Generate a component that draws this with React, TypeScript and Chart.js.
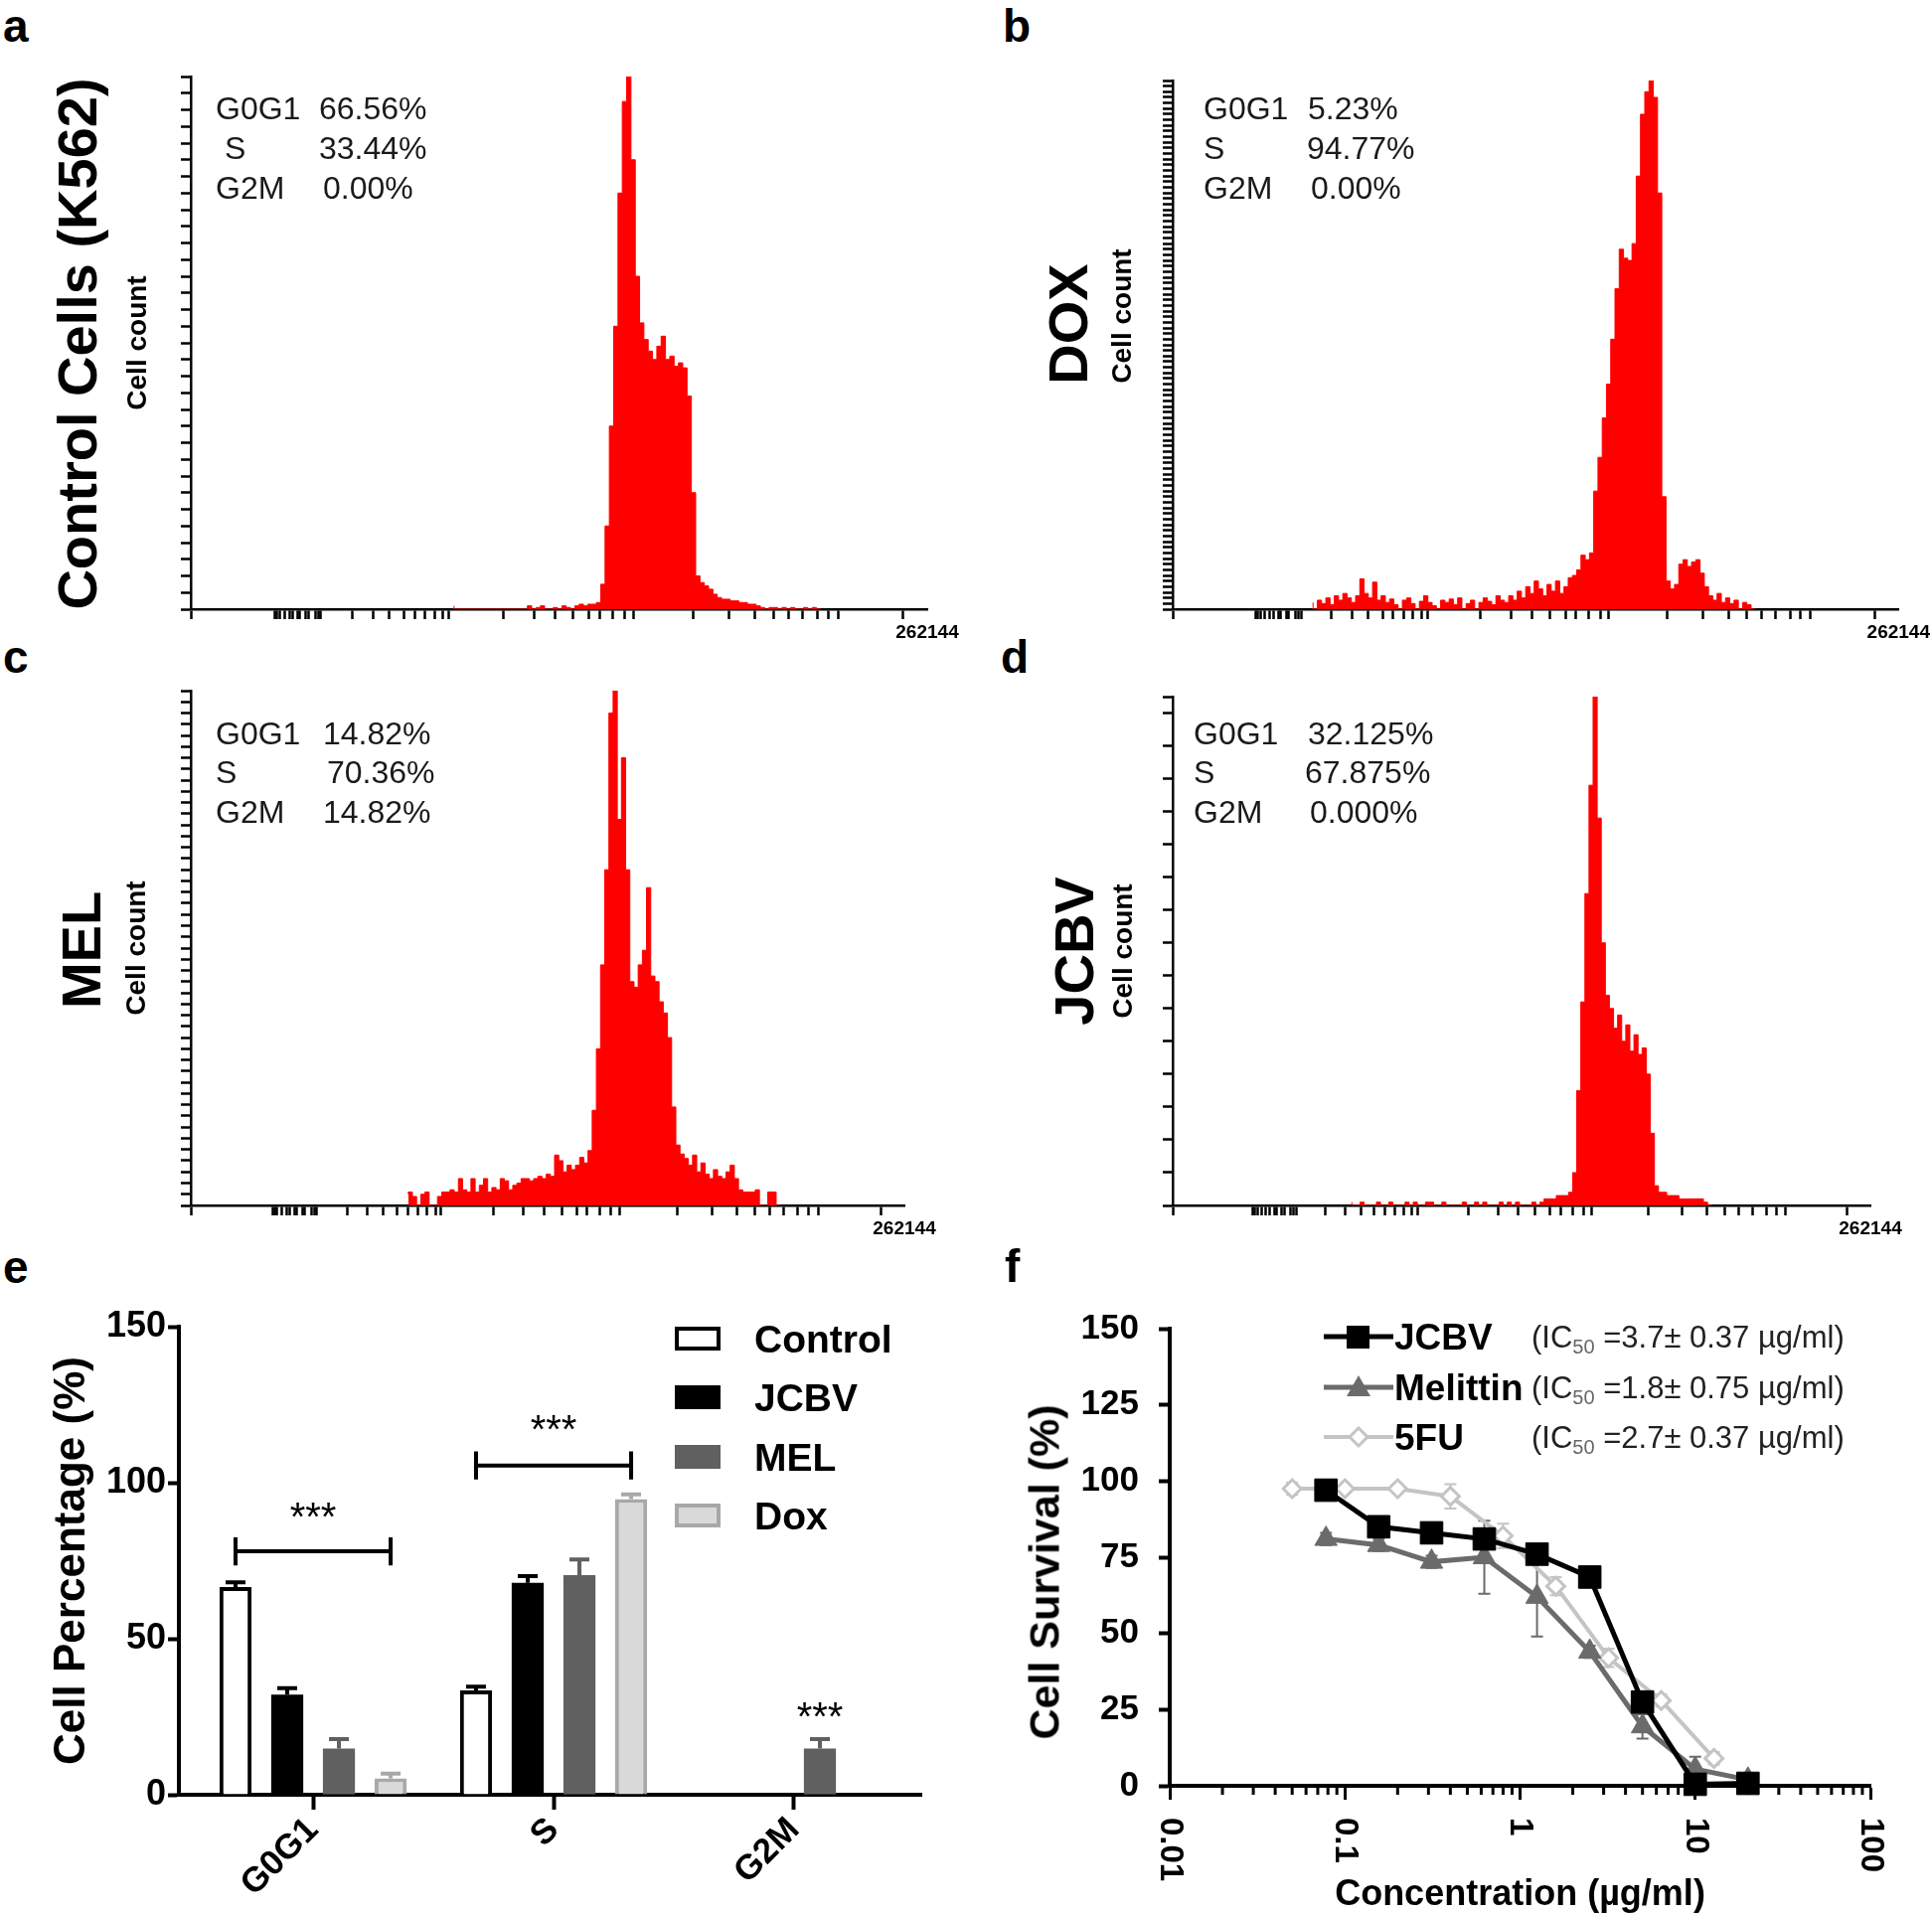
import React, { useEffect, useRef } from 'react';
import { Chart, registerables } from 'chart.js';

Chart.register(...registerables);

const FONT = "'Liberation Sans', Arial, Helvetica, sans-serif";
Chart.defaults.font.family = FONT;
Chart.defaults.color = '#000';

// ---------------- a–d : DNA content histograms (channel 0..1024 of the display axis) ----------------
const HIST_BIN = 6;
const HIST_X_MAX = 1024;
const HIST_X_TICKS = [0, 117, 120, 124, 130, 137, 142, 149, 152, 160, 164, 173, 177, 181,
  224, 253, 276, 296, 311, 326, 339, 351, 359,
  434, 477, 507, 532, 554, 569, 587, 603, 615,
  698, 748, 784, 810, 831, 851, 871, 886, 900, 990, 1024];
const HIST_X_END_LABEL = '262144';

const HIST_A_START = 366;
const HIST_A = [2, 0, 0, 0, 0, 0, 0, 0, 0, 0, 0, 0, 0, 0, 0, 0, 0, 0,
  2, 0, 1, 2, 0, 0, 1, 0, 2, 1, 0, 2, 3, 2, 3, 3,
  4, 15, 50, 110, 170, 250, 305, 320, 270, 200, 172, 162, 155, 150, 158, 164, 150, 152, 146, 148, 145, 128, 70,
  20, 16, 14, 12, 9, 7, 6, 6, 5, 5, 4, 4, 3, 3, 2, 1, 0, 1, 1, 0, 1, 0, 1, 0, 0, 1, 0, 1];

const HIST_B_START = 198;
const HIST_B = [6, 0, 8, 5, 10, 4, 12, 8, 14, 10, 6, 12,
  27, 14, 10, 24, 8, 12,
  6, 9, 4, 0, 8, 10, 5, 0, 7, 12, 6, 3, 0, 8, 6, 9, 4, 10, 0, 5, 8, 0, 6, 10, 7, 4, 12, 8, 6,
  12, 8, 16, 10, 20, 14, 25, 18, 12, 22, 16, 25, 14, 20, 28,
  30, 35, 48, 44, 50,
  105, 135, 170, 200, 240, 285, 320, 312, 310, 325, 385, 440, 460, 470, 455, 370, 100, 25, 18, 22,
  40, 44, 38, 42, 44, 32, 20, 12, 8, 14, 6, 10, 5, 8, 0, 6, 4];

const HIST_C_START = 312;
const HIST_C = [10, 12, 8, 0, 10, 12, 0, 0, 8, 12,
  12, 14, 12, 24, 14, 12, 24, 12, 18, 24,
  12, 16, 14, 24, 22, 14, 18, 20, 24, 24,
  22, 24, 26, 24, 28, 26, 45, 40, 30, 36,
  32, 36, 43, 38, 49, 85, 140, 215, 300, 440,
  460, 345, 400, 300, 200, 195, 215, 228, 284, 205,
  200, 182, 172, 150, 88, 54, 46, 42, 36, 45,
  30, 38, 28, 24, 32, 26, 24, 30, 36, 24,
  14, 12, 12, 12, 14, 0, 0, 12, 12];

const HIST_D_START = 263;
const HIST_D = [1, 0, 0, 1, 0, 0, 0, 1, 0, 0, 1, 0, 0, 0, 1, 0, 1, 0, 0, 1, 1, 0, 0, 1,
  0, 0, 0, 0, 1, 0, 0, 1, 0, 1, 0, 0, 0, 1, 0, 1, 0, 1, 0, 0, 0, 1, 0, 1,
  2, 2, 2, 3, 3, 3, 4, 10, 35, 62,
  95, 128, 155, 118, 80, 64, 60, 54, 58, 50,
  55, 47, 52, 46, 48, 40, 22, 6, 4, 4,
  3, 3, 3, 2, 2, 2, 2, 2, 2, 1];

const PHASES = ['G0G1', 'S', 'G2M'];
const STATS_A = ['66.56%', '33.44%', '0.00%'];
const STATS_B = ['5.23%', '94.77%', '0.00%'];
const STATS_C = ['14.82%', '70.36%', '14.82%'];
const STATS_D = ['32.125%', '67.875%', '0.000%'];
const HIST_Y_TITLE = 'Cell count';

// ---------------- e : phase distribution bars ----------------
const BAR_CATS = ['G0G1', 'S', 'G2M'];
const BAR_SERIES = ['Control', 'JCBV', 'MEL', 'Dox'];
const BAR_CONTROL = [66.56, 33.44, 0];
const BAR_JCBV = [32.125, 67.875, 0];
const BAR_MEL = [14.82, 70.36, 14.82];
const BAR_DOX = [5.23, 94.77, 0];
const ERR_CONTROL = [1.5, 1.2, 0];
const ERR_JCBV = [2, 2.2, 0];
const ERR_MEL = [3, 5, 3];
const ERR_DOX = [1.5, 1.5, 0];
const BAR_Y_TICKS = [0, 50, 100, 150];
const SIG_BRACKET_CATS = [0, 1];
const SIG_BRACKET_Y = [78, 105.5];
const SIG_STAR_CATS = [0, 1, 2];
const SIG_STAR_Y = [92, 120, 28];
const SIG_STAR_SERIES = [-1, -1, 2];

// ---------------- f : cell survival ----------------
const CONC_VENOM = [0.078, 0.156, 0.3125, 0.625, 1.25, 2.5, 5, 10, 20];
const CONC_5FU = [0.05, 0.1, 0.2, 0.4, 0.8, 1.6, 3.2, 6.4, 12.8];
const SURV_JCBV = [97, 85, 83, 81, 76, 68.5, 27.5, 0.5, 0.8];
const SURV_MEL = [81, 79, 73.5, 75, 62, 44, 19.5, 5.5, 2];
const SURV_5FU = [97.5, 97.5, 97.5, 95, 82, 65.5, 42, 28, 9];
const ERR_SURV_JCBV = [3, 2, 2, 2, 2, 2, 2, 1, 1];
const ERR_SURV_MEL = [2, 2, 2, 12, 13, 2, 4, 4, 1];
const ERR_SURV_5FU = [2, 1, 1, 4, 4, 3, 3, 2, 2];
const SURV_Y_TICKS = [0, 25, 50, 75, 100, 125, 150];
const CONC_MAJOR = [0.01, 0.1, 1, 10, 100];
const CONC_MAJOR_LABELS = ['0.01', '0.1', '1', '10', '100'];
const LINE_NAMES = ['JCBV', 'Melittin', '5FU'];
const IC50 = ['3.7± 0.37', '1.8± 0.75', '2.7± 0.37'];

// ---------------- helpers ----------------
const T = ({ x, y, size, bold = false, color = '#000', children }: any) => (
  <div style={{ position: 'absolute', left: x, top: y - 0.8465 * size, fontSize: size, lineHeight: `${size}px`, fontWeight: bold ? 700 : 400, color, whiteSpace: 'nowrap', fontFamily: FONT }}>{children}</div>
);

const RT = ({ cx, cy, size, children }: any) => (
  <div style={{ position: 'absolute', left: cx, top: cy, transform: 'translate(-50%,-50%) rotate(-90deg)', fontSize: size, lineHeight: `${size}px`, fontWeight: 700, whiteSpace: 'nowrap', fontFamily: FONT, color: '#000' }}>{children}</div>
);

function ChartBox({ left, top, width, height, make }: any) {
  const ref = useRef<HTMLCanvasElement | null>(null);
  useEffect(() => {
    if (!ref.current) return;
    const chart = new Chart(ref.current, make());
    return () => chart.destroy();
  }, []);
  return (
    <div style={{ position: 'absolute', left, top, width, height }}>
      <canvas ref={ref} width={width} height={height} style={{ width, height, display: 'block' }} />
    </div>
  );
}

function histConfig(start: number, counts: number[], yMax: number, yStep: number, yW: number, padR: number, showTitle: boolean) {
  const pts = counts.map((c, i) => ({ x: start + i * HIST_BIN, y: c }));
  pts.push({ x: start + counts.length * HIST_BIN, y: 0 });
  const yTicks: number[] = [];
  for (let v = 0; v <= yMax + 1e-9; v += yStep) yTicks.push(v);
  if (yTicks[yTicks.length - 1] < yMax) yTicks.push(yMax);
  return {
    type: 'line',
    data: {
      datasets: [{
        data: pts, stepped: 'after', fill: 'origin', backgroundColor: '#ff0000',
        borderColor: '#ff0000', borderWidth: 1, pointRadius: 0, tension: 0,
      }],
    },
    options: {
      responsive: false, animation: false, devicePixelRatio: 1, events: [],
      layout: { padding: { top: 20, right: padR, left: 0, bottom: 0 } },
      plugins: { legend: { display: false }, tooltip: { enabled: false } },
      scales: {
        x: {
          type: 'linear', min: 0, max: HIST_X_MAX,
          afterBuildTicks: (s: any) => { s.ticks = HIST_X_TICKS.map((v) => ({ value: v })); },
          afterFit: (s: any) => { s.height = 45; },
          grid: {
            display: true, drawOnChartArea: false, drawTicks: true, tickLength: 10, tickWidth: 2.5,
            tickColor: (c: any) => (c.tick && c.tick.value === HIST_X_MAX ? 'rgba(0,0,0,0)' : '#000'),
          },
          border: { display: true, color: '#000', width: 2.5 },
          ticks: {
            autoSkip: false, maxRotation: 0, minRotation: 0, padding: 2, color: '#000',
            font: { size: 19, weight: 'bold' },
            callback: (v: any) => (v === HIST_X_MAX ? HIST_X_END_LABEL : ''),
          },
        },
        y: {
          type: 'linear', min: 0, max: yMax,
          afterBuildTicks: (s: any) => { s.ticks = yTicks.map((v) => ({ value: v })); },
          afterFit: (s: any) => { s.width = yW; },
          grid: { display: true, drawOnChartArea: false, drawTicks: true, tickLength: 10, tickWidth: 2.5, tickColor: '#000' },
          border: { display: true, color: '#000', width: 2.5 },
          ticks: { display: false },
          title: { display: showTitle, text: HIST_Y_TITLE, color: '#000', font: { size: 28, weight: 'bold', lineHeight: 1 }, padding: { top: 4, bottom: 4 } },
        },
      },
    },
  };
}

const HIST_PANELS = [
  { letter: 'a', lx: 3, lb: 42, title: 'Control Cells (K562)', tcx: 78, tcy: 346, start: HIST_A_START, counts: HIST_A, yMax: 320, yStep: 10,
    area: { l: 192, t: 77, r: 933, b: 613 }, yW: 71, padR: 60, stats: STATS_A, sx: [217, 226, 217], vx: [321, 321, 325], sb: [120, 160, 200], ccy: null },
  { letter: 'b', lx: 1009, lb: 42, title: 'DOX', tcx: 1075, tcy: 326, start: HIST_B_START, counts: HIST_B, yMax: 470, yStep: 5,
    area: { l: 1180, t: 81, r: 1912, b: 613 }, yW: 69, padR: 32, stats: STATS_B, sx: [1211, 1211, 1211], vx: [1316, 1315, 1319], sb: [120, 160, 200], ccy: 318 },
  { letter: 'c', lx: 3, lb: 677, title: 'MEL', tcx: 82, tcy: 956, start: HIST_C_START, counts: HIST_C, yMax: 460, yStep: 10,
    area: { l: 192, t: 695, r: 910, b: 1213 }, yW: 72, padR: 60, stats: STATS_C, sx: [217, 217, 217], vx: [325, 329, 325], sb: [749, 788, 828], ccy: null },
  { letter: 'd', lx: 1007, lb: 677, title: 'JCBV', tcx: 1081, tcy: 957, start: HIST_D_START, counts: HIST_D, yMax: 155, yStep: 10,
    area: { l: 1180, t: 701, r: 1882, b: 1213 }, yW: 67, padR: 62, stats: STATS_D, sx: [1201, 1201, 1201], vx: [1316, 1313, 1318], sb: [749, 788, 828], ccy: null },
];

function HistPanel({ p }: any) {
  const left = p.area.l - p.yW;
  const top = p.area.t - 20;
  const width = p.area.r + p.padR - left;
  const height = p.area.b + 45 - top;
  const chartTitle = p.ccy === null;
  return (
    <>
      <ChartBox left={left} top={top} width={width} height={height}
        make={() => histConfig(p.start, p.counts, p.yMax, p.yStep, p.yW, p.padR, chartTitle)} />
      {!chartTitle && <RT cx={left + 18} cy={p.ccy} size={28}>{HIST_Y_TITLE}</RT>}
      <T x={p.lx} y={p.lb} size={46} bold>{p.letter}</T>
      <RT cx={p.tcx} cy={p.tcy} size={56}>{p.title}</RT>
      {PHASES.map((ph, i) => (
        <React.Fragment key={ph}>
          <T x={p.sx[i]} y={p.sb[i]} size={32} color="#1a1a1a">{ph}</T>
          <T x={p.vx[i]} y={p.sb[i]} size={32} color="#1a1a1a">{p.stats[i]}</T>
        </React.Fragment>
      ))}
    </>
  );
}

// ---------------- e ----------------
const BAR_VALUES = [BAR_CONTROL, BAR_JCBV, BAR_MEL, BAR_DOX];
const BAR_ERRS = [ERR_CONTROL, ERR_JCBV, ERR_MEL, ERR_DOX];
const BAR_FILL = ['#ffffff', '#000000', '#606060', '#d9d9d9'];
const BAR_EDGE = ['#000000', '#000000', '#606060', '#a8a8a8'];
const BAR_BW = [4, 0, 0, 4];
const E_LEG_Y = [1347, 1406, 1466, 1525];

const barErrPlugin = {
  id: 'barErr',
  afterDatasetsDraw(chart: any) {
    const ctx = chart.ctx; const ys = chart.scales.y;
    BAR_VALUES.forEach((vals, k) => {
      const meta = chart.getDatasetMeta(k);
      meta.data.forEach((el: any, i: number) => {
        const e = BAR_ERRS[k][i];
        if (!e) return;
        const top = ys.getPixelForValue(vals[i] + e);
        ctx.save();
        ctx.strokeStyle = BAR_EDGE[k]; ctx.lineWidth = 4;
        ctx.beginPath();
        ctx.moveTo(el.x, el.y); ctx.lineTo(el.x, top);
        ctx.moveTo(el.x - 10, top); ctx.lineTo(el.x + 10, top);
        ctx.stroke(); ctx.restore();
      });
    });
  },
};

const sigPlugin = {
  id: 'sig',
  afterDraw(chart: any) {
    const ctx = chart.ctx; const ys = chart.scales.y; const xs = chart.scales.x;
    ctx.save();
    ctx.strokeStyle = '#000'; ctx.lineWidth = 4;
    SIG_BRACKET_CATS.forEach((c, j) => {
      const x0 = chart.getDatasetMeta(0).data[c].x;
      const x1 = chart.getDatasetMeta(3).data[c].x;
      const py = ys.getPixelForValue(SIG_BRACKET_Y[j]);
      const h = ys.getPixelForValue(SIG_BRACKET_Y[j]) - ys.getPixelForValue(SIG_BRACKET_Y[j] + 4.5);
      ctx.beginPath();
      ctx.moveTo(x0, py); ctx.lineTo(x1, py);
      ctx.moveTo(x0, py - h); ctx.lineTo(x0, py + h);
      ctx.moveTo(x1, py - h); ctx.lineTo(x1, py + h);
      ctx.stroke();
    });
    const fs = 40;
    ctx.fillStyle = '#000'; ctx.font = `${fs}px ${FONT}`; ctx.textAlign = 'center'; ctx.textBaseline = 'alphabetic';
    SIG_STAR_CATS.forEach((c, j) => {
      const sx = SIG_STAR_SERIES[j] >= 0 ? chart.getDatasetMeta(SIG_STAR_SERIES[j]).data[c].x : xs.getPixelForValue(c);
      const sy = ys.getPixelForValue(SIG_STAR_Y[j]);
      ctx.fillText('***', sx, sy + 0.57 * fs);
    });
    ctx.restore();
  },
};

function barConfig() {
  return {
    type: 'bar',
    data: {
      datasets: BAR_SERIES.map((name, k) => ({
        label: name,
        data: BAR_CATS.map((_, i) => ({ x: i, y: BAR_VALUES[k][i] })),
        backgroundColor: BAR_FILL[k], borderColor: BAR_EDGE[k], borderWidth: BAR_BW[k],
        categoryPercentage: 0.86, barPercentage: 0.62,
      })),
    },
    options: {
      responsive: false, animation: false, devicePixelRatio: 1, events: [],
      layout: { padding: { top: 40, right: 33, left: 0, bottom: 0 } },
      plugins: { legend: { display: false }, tooltip: { enabled: false } },
      scales: {
        x: {
          type: 'linear', min: -0.558, max: 2.529, offset: false,
          afterBuildTicks: (s: any) => { s.ticks = BAR_CATS.map((_, i) => ({ value: i })); },
          afterFit: (s: any) => { s.height = 120; },
          grid: { display: true, offset: false, drawOnChartArea: false, tickLength: 15, tickWidth: 4, tickColor: '#000' },
          border: { display: true, color: '#000', width: 4 },
          ticks: {
            autoSkip: false, maxRotation: 45, minRotation: 45, padding: 0, color: '#000',
            font: { size: 35, weight: 'bold' },
            callback: (v: any) => (BAR_CATS[v] !== undefined ? BAR_CATS[v] : ''),
          },
        },
        y: {
          min: 0, max: 150,
          afterBuildTicks: (s: any) => { s.ticks = BAR_Y_TICKS.map((v) => ({ value: v })); },
          afterFit: (s: any) => { s.width = 133; },
          grid: { display: true, drawOnChartArea: false, tickLength: 11, tickWidth: 4, tickColor: '#000' },
          border: { display: true, color: '#000', width: 4 },
          ticks: { padding: 2, color: '#000', font: { size: 36, weight: 'bold' } },
          title: { display: true, text: 'Cell Percentage (%)', color: '#000', font: { size: 44, weight: 'bold', lineHeight: 1 }, padding: { top: 4, bottom: 4 } },
        },
      },
    },
    plugins: [barErrPlugin, sigPlugin],
  };
}

// ---------------- f ----------------
const LINE_X = [CONC_VENOM, CONC_VENOM, CONC_5FU];
const LINE_Y = [SURV_JCBV, SURV_MEL, SURV_5FU];
const LINE_ERR = [ERR_SURV_JCBV, ERR_SURV_MEL, ERR_SURV_5FU];
const LINE_COLOR = ['#000000', '#6b6b6b', '#c4c4c4'];
const LINE_W = [5, 5, 4];
const F_LEG_Y = [1345, 1396, 1446];

const lineErrPlugin = {
  id: 'lineErr',
  beforeDatasetsDraw(chart: any) {
    const ctx = chart.ctx; const ys = chart.scales.y;
    LINE_Y.forEach((vals, k) => {
      const meta = chart.getDatasetMeta(k);
      meta.data.forEach((pt: any, i: number) => {
        const e = LINE_ERR[k][i];
        const y1 = ys.getPixelForValue(vals[i] + e);
        const y0 = ys.getPixelForValue(Math.max(0, vals[i] - e));
        ctx.save(); ctx.strokeStyle = LINE_COLOR[k]; ctx.lineWidth = 2;
        ctx.beginPath();
        ctx.moveTo(pt.x, y0); ctx.lineTo(pt.x, y1);
        ctx.moveTo(pt.x - 6, y0); ctx.lineTo(pt.x + 6, y0);
        ctx.moveTo(pt.x - 6, y1); ctx.lineTo(pt.x + 6, y1);
        ctx.stroke(); ctx.restore();
      });
    });
  },
};

const logAxisPlugin = {
  id: 'logAxis',
  afterDraw(chart: any) {
    const ctx = chart.ctx; const xs = chart.scales.x;
    ctx.save();
    ctx.strokeStyle = '#000'; ctx.lineWidth = 3;
    CONC_MAJOR.slice(0, -1).forEach((dec) => {
      for (let m = 2; m <= 9; m++) {
        const x = xs.getPixelForValue(dec * m);
        ctx.beginPath(); ctx.moveTo(x, xs.top); ctx.lineTo(x, xs.top + 9); ctx.stroke();
      }
    });
    ctx.fillStyle = '#000'; ctx.font = `bold 33px ${FONT}`; ctx.textAlign = 'left'; ctx.textBaseline = 'middle';
    CONC_MAJOR.forEach((v, i) => {
      const x = xs.getPixelForValue(v);
      ctx.save(); ctx.translate(x, xs.top + 32); ctx.rotate(Math.PI / 2);
      ctx.fillText(CONC_MAJOR_LABELS[i], 0, 0); ctx.restore();
    });
    ctx.restore();
  },
};

function lineConfig() {
  const styles = [
    { pointStyle: 'rect', pointRadius: 16, pointBackgroundColor: '#000', pointBorderColor: '#000', pointBorderWidth: 1 },
    { pointStyle: 'triangle', pointRadius: 13, pointBackgroundColor: '#6b6b6b', pointBorderColor: '#6b6b6b', pointBorderWidth: 1 },
    { pointStyle: 'rectRot', pointRadius: 9, pointBackgroundColor: '#ffffff', pointBorderColor: '#c4c4c4', pointBorderWidth: 3 },
  ];
  return {
    type: 'line',
    data: {
      datasets: LINE_NAMES.map((name, k) => ({
        label: name,
        data: LINE_X[k].map((x, i) => ({ x, y: LINE_Y[k][i] })),
        borderColor: LINE_COLOR[k], backgroundColor: LINE_COLOR[k], borderWidth: LINE_W[k],
        tension: 0, clip: false, ...styles[k],
      })),
    },
    options: {
      responsive: false, animation: false, devicePixelRatio: 1, events: [],
      layout: { padding: { top: 35, right: 48, left: 0, bottom: 0 } },
      plugins: { legend: { display: false }, tooltip: { enabled: false } },
      scales: {
        x: {
          type: 'logarithmic', min: 0.01, max: 100,
          afterBuildTicks: (s: any) => { s.ticks = CONC_MAJOR.map((v) => ({ value: v })); },
          afterFit: (s: any) => { s.height = 128; },
          grid: { display: true, drawOnChartArea: false, tickLength: 14, tickWidth: 3, tickColor: '#000' },
          border: { display: true, color: '#000', width: 4 },
          ticks: { display: false },
          title: { display: true, text: 'Concentration (µg/ml)', color: '#000', font: { size: 36, weight: 'bold', lineHeight: 1 }, padding: { top: 0, bottom: 0 } },
        },
        y: {
          min: 0, max: 150,
          afterBuildTicks: (s: any) => { s.ticks = SURV_Y_TICKS.map((v) => ({ value: v })); },
          afterFit: (s: any) => { s.width = 151; },
          grid: { display: true, drawOnChartArea: false, tickLength: 11, tickWidth: 4, tickColor: '#000' },
          border: { display: true, color: '#000', width: 4 },
          ticks: { padding: 20, color: '#000', font: { size: 35, weight: 'bold' } },
          title: { display: false },
        },
      },
    },
    plugins: [lineErrPlugin, logAxisPlugin],
  };
}

function LegendMarker({ k }: { k: number }) {
  const c = LINE_COLOR[k];
  return (
    <svg width={70} height={30} style={{ position: 'absolute', left: 1332, top: F_LEG_Y[k] - 15 }}>
      <line x1={0} y1={15} x2={70} y2={15} stroke={c} strokeWidth={LINE_W[k]} />
      {k === 0 && <rect x={23} y={4} width={23} height={23} fill="#000" />}
      {k === 1 && <polygon points="35,3 47,24 23,24" fill={c} />}
      {k === 2 && <polygon points="35,6 44,15 35,24 26,15" fill="#fff" stroke={c} strokeWidth={3} />}
    </svg>
  );
}

export default function App() {
  return (
    <div style={{ position: 'absolute', left: 0, top: 0, width: 1944, height: 1926, background: '#fff', overflow: 'hidden', fontFamily: FONT }}>
      {HIST_PANELS.map((p) => <HistPanel key={p.letter} p={p} />)}

      {/* e */}
      <ChartBox left={47} top={1295} width={913} height={631} make={barConfig} />
      <T x={3} y={1291} size={46} bold>e</T>
      {BAR_SERIES.map((name, k) => (
        <React.Fragment key={name}>
          <div style={{ position: 'absolute', left: 679, top: E_LEG_Y[k] - 12, width: 46, height: 24, boxSizing: 'border-box', background: BAR_FILL[k], border: BAR_BW[k] ? `${BAR_BW[k]}px solid ${BAR_EDGE[k]}` : 'none' }} />
          <T x={759} y={E_LEG_Y[k] + 14} size={39} bold>{name}</T>
        </React.Fragment>
      ))}

      {/* f */}
      <ChartBox left={1026} top={1296} width={904} height={629} make={lineConfig} />
      <RT cx={1051} cy={1582} size={43}>Cell Survival (%)</RT>
      <T x={1011} y={1290} size={46} bold>f</T>
      {LINE_NAMES.map((name, k) => (
        <React.Fragment key={name}>
          <LegendMarker k={k} />
          <T x={1403} y={F_LEG_Y[k] + 13} size={37} bold>{name}</T>
          <T x={1541} y={F_LEG_Y[k] + 11} size={31} color="#222">
            (IC<span style={{ fontSize: 20, color: '#666', position: 'relative', top: 6 }}>50</span> ={IC50[k]} µg/ml)
          </T>
        </React.Fragment>
      ))}
    </div>
  );
}
